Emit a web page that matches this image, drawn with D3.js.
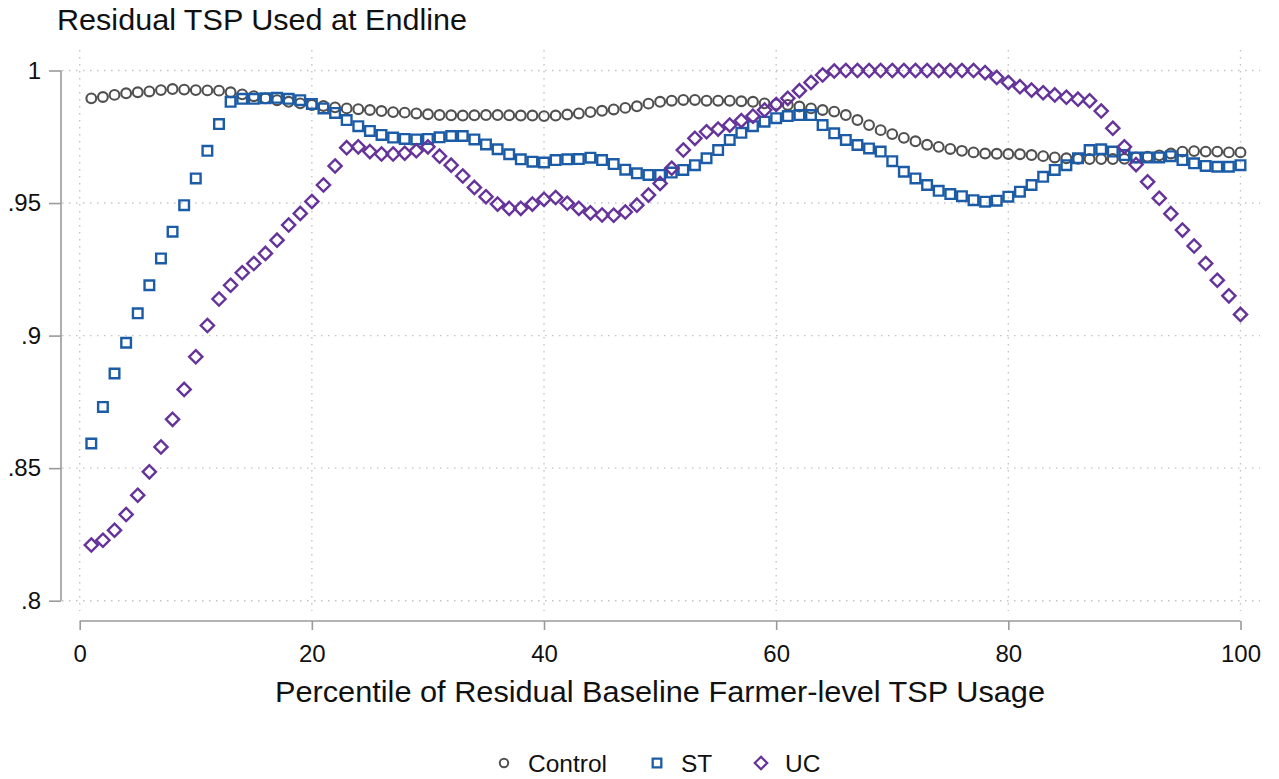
<!DOCTYPE html>
<html>
<head>
<meta charset="utf-8">
<script src="https://cdn.jsdelivr.net/npm/d3@7"></script>
<style>
  html, body { margin: 0; padding: 0; background: #fff; }
  svg { display: block; font-family: "Liberation Sans", Arial, sans-serif; }
</style>
</head>
<body>
<svg id="chart" width="1279" height="779"></svg>
<script>
// ---------------- data ----------------
const percentiles = d3.range(1, 101);

const controlValues = [
  .9895, .9900, .9908, .9914, .9918, .9921, .9926, .9930, .9928, .9926,
  .9925, .9924, .9918, .9910, .9903, .9895, .9888, .9882, .9876, .9870,
  .9866, .9861, .9857, .9854, .9851, .9847, .9843, .9841, .9838, .9835,
  .9832, .9831, .9830, .9831, .9832, .9832, .9831, .9830, .9830, .9828,
  .9830, .9834, .9838, .9843, .9848, .9853, .9859, .9865, .9875, .9882,
  .9886, .9889, .9889, .9886, .9886, .9886, .9884, .9882, .9876, .9872,
  .9870, .9864, .9857, .9851, .9845, .9832, .9813, .9794, .9775, .9760,
  .9746, .9733, .9720, .9712, .9704, .9697, .9691, .9687, .9686, .9685,
  .9684, .9681, .9677, .9672, .9669, .9667, .9666, .9666, .9666, .9667,
  .9672, .9675, .9680, .9687, .9694, .9696, .9694, .9694, .9691, .9691
];

const stValues = [
  .8593, .8731, .8857, .8973, .9084, .9190, .9291, .9392, .9492, .9593,
  .9697, .9798, .9882, .9893, .9893, .9895, .9897, .9893, .9888, .9874,
  .9857, .9840, .9813, .9790, .9772, .9757, .9747, .9742, .9740, .9742,
  .9748, .9753, .9753, .9740, .9721, .9703, .9684, .9665, .9656, .9653,
  .9662, .9665, .9666, .9671, .9662, .9647, .9626, .9612, .9606, .9606,
  .9615, .9625, .9643, .9669, .9700, .9738, .9765, .9790, .9807, .9820,
  .9828, .9832, .9832, .9794, .9763, .9738, .9719, .9706, .9694, .9658,
  .9618, .9593, .9568, .9546, .9534, .9526, .9511, .9505, .9509, .9524,
  .9543, .9568, .9599, .9625, .9643, .9669, .9700, .9703, .9694, .9681,
  .9672, .9672, .9672, .9677, .9662, .9650, .9640, .9637, .9637, .9643
];

const ucValues = [
  .8210, .8228, .8266, .8325, .8398, .8486, .8580, .8684, .8797, .8920,
  .9038, .9138, .9190, .9237, .9272, .9310, .9360, .9417, .9461, .9506,
  .9568, .9640, .9709, .9712, .9694, .9685, .9685, .9688, .9697, .9712,
  .9677, .9643, .9602, .9559, .9524, .9496, .9480, .9480, .9496, .9514,
  .9521, .9499, .9480, .9463, .9455, .9454, .9466, .9492, .9530, .9574,
  .9631, .9700, .9744, .9769, .9779, .9794, .9811, .9828, .9851, .9872,
  .9895, .9924, .9955, .9983, .9998, 1.0000, 1.0000, 1.0000, 1.0000, 1.0000,
  1.0000, 1.0000, 1.0000, 1.0000, 1.0000, 1.0000, 1.0000, .9992, .9974, .9955,
  .9939, .9926, .9916, .9908, .9899, .9892, .9886, .9847, .9782, .9712,
  .9645, .9580, .9518, .9460, .9398, .9338, .9272, .9209, .9150, .9080
];

const seriesNames = ["Control", "ST", "UC"];
const xTicks = [0, 20, 40, 60, 80, 100];
const yTicks = [0.8, 0.85, 0.9, 0.95, 1];
const yTickLabels = [".8", ".85", ".9", ".95", "1"];
const titleText = "Residual TSP Used at Endline";
const xTitleText = "Percentile of Residual Baseline Farmer-level TSP Usage";

// ---------------- layout ----------------
const svg = d3.select("#chart");
const colors = { Control: "#505050", ST: "#1c5ca6", UC: "#65339a" };
const FONT = "Liberation Sans, Arial, sans-serif";

const x = d3.scaleLinear().domain([0, 100]).range([79.7, 1240.5]);
const y = d3.scaleLinear().domain([0.8, 1]).range([600.7, 70.5]);

const plotLeft = 61, plotRight = 1260, plotTop = 50, plotBottom = 611;
const gridColor = "#c4c4c4";
const axisColor = "#9a9a9a";

// title
svg.append("text")
  .attr("x", 57).attr("y", 30)
  .attr("font-size", 30).attr("fill", "#111")
  .attr("textLength", 410).attr("lengthAdjust", "spacingAndGlyphs")
  .text(titleText);

// gridlines
const grid = svg.append("g");
grid.selectAll("line.h").data(yTicks).join("line")
  .attr("x1", plotLeft + 1).attr("x2", plotRight)
  .attr("y1", d => y(d)).attr("y2", d => y(d))
  .attr("stroke", gridColor).attr("stroke-width", 1.4)
  .attr("stroke-dasharray", "1.5,5.5");
grid.selectAll("line.v").data(xTicks).join("line")
  .attr("y1", plotTop).attr("y2", plotBottom)
  .attr("x1", d => x(d)).attr("x2", d => x(d))
  .attr("stroke", gridColor).attr("stroke-width", 1.4)
  .attr("stroke-dasharray", "1.5,5.5");

// y axis
const yAxis = d3.axisLeft(y).tickValues(yTicks)
  .tickFormat((d, i) => yTickLabels[i]).tickSizeOuter(0).tickSize(12).tickPadding(8);
const gy = svg.append("g").attr("transform", `translate(${plotLeft},0)`).call(yAxis);
gy.select(".domain").attr("stroke", axisColor).attr("stroke-width", 1.6)
  .attr("d", `M0,${y(1)}V${y(0.8)}`);
gy.selectAll(".tick line").attr("stroke", axisColor).attr("stroke-width", 1.6);
gy.selectAll(".tick text").attr("font-size", 24).attr("fill", "#111")
  .attr("font-family", FONT);

// x axis
const xAxis = d3.axisBottom(x).tickValues(xTicks).tickSizeOuter(0).tickSize(9).tickPadding(15);
const gx = svg.append("g").attr("transform", `translate(0,621)`).call(xAxis);
gx.select(".domain").attr("stroke", axisColor).attr("stroke-width", 1.6)
  .attr("d", `M${x(0)},0H${x(100)}`);
gx.selectAll(".tick line").attr("stroke", axisColor).attr("stroke-width", 1.6);
gx.selectAll(".tick text").attr("font-size", 24).attr("fill", "#111")
  .attr("font-family", FONT);

// x title
svg.append("text")
  .attr("x", 660).attr("y", 702)
  .attr("text-anchor", "middle")
  .attr("font-size", 30).attr("fill", "#111")
  .attr("textLength", 770).attr("lengthAdjust", "spacingAndGlyphs")
  .text(xTitleText);

// ---------------- markers ----------------
function markerPath(shape, s) {
  if (shape === "square") return `M${-s},${-s}H${s}V${s}H${-s}Z`;
  return `M0,${-s}L${s},0L0,${s}L${-s},0Z`;
}

const marks = svg.append("g");
const seriesData = [
  { name: "Control", shape: "circle", values: controlValues },
  { name: "ST", shape: "square", values: stValues },
  { name: "UC", shape: "diamond", values: ucValues }
];

seriesData.forEach(s => {
  const g = marks.append("g");
  const pts = percentiles.map((p, i) => ({ p, v: s.values[i] }));
  if (s.shape === "circle") {
    g.selectAll("circle").data(pts).join("circle")
      .attr("cx", d => x(d.p)).attr("cy", d => y(d.v)).attr("r", 4.9)
      .attr("fill", "none").attr("stroke", colors[s.name]).attr("stroke-width", 2.1);
  } else {
    const size = s.shape === "square" ? 4.8 : 6.6;
    g.selectAll("path").data(pts).join("path")
      .attr("transform", d => `translate(${x(d.p)},${y(d.v)})`)
      .attr("d", markerPath(s.shape, size))
      .attr("fill", "none").attr("stroke", colors[s.name]).attr("stroke-width", 2.4);
  }
});

// ---------------- legend ----------------
const legendItems = [
  { name: "Control", shape: "circle", mx: 504, tx: 528 },
  { name: "ST", shape: "square", mx: 657, tx: 681 },
  { name: "UC", shape: "diamond", mx: 761, tx: 785 }
];
const lg = svg.append("g");
legendItems.forEach(it => {
  if (it.shape === "circle") {
    lg.append("circle").attr("cx", it.mx).attr("cy", 763).attr("r", 4.2)
      .attr("fill", "none").attr("stroke", colors[it.name]).attr("stroke-width", 2);
  } else {
    lg.append("path").attr("transform", `translate(${it.mx},763)`)
      .attr("d", markerPath(it.shape, it.shape === "square" ? 4.3 : 6.2))
      .attr("fill", "none").attr("stroke", colors[it.name]).attr("stroke-width", 2.3);
  }
  lg.append("text").attr("x", it.tx).attr("y", 772)
    .attr("font-size", 24.5).attr("fill", "#111").text(it.name);
});
</script>
</body>
</html>
